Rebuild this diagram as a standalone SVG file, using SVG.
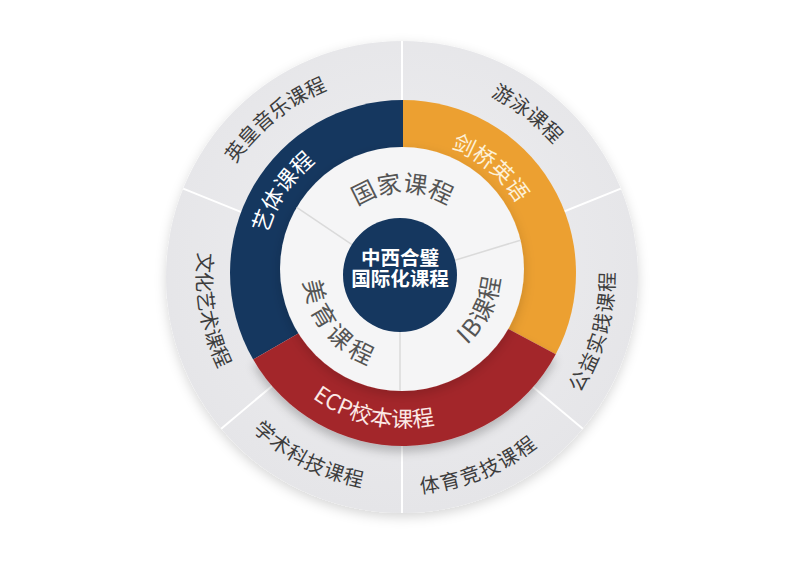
<svg xmlns="http://www.w3.org/2000/svg" width="800" height="566" viewBox="0 0 800 566">
<style>
text{font-family:"Noto Sans CJK SC","Noto Sans",sans-serif;}
.outer{font-size:20px;fill:#3d3d3d;}
.band{font-size:22px;fill:#ffffff;}
.inner{font-size:24px;fill:#555555;}
.div{stroke:#ffffff;stroke-width:2;}
.idiv{stroke:#dadada;stroke-width:1.5;}
</style>
<defs>
<radialGradient id="gray" cx="50%" cy="45%" r="55%">
<stop offset="0" stop-color="#efeff1"/>
<stop offset="1" stop-color="#e5e5e8"/>
</radialGradient>
<filter id="sh" x="-20%" y="-20%" width="140%" height="140%">
<feDropShadow dx="0" dy="4" stdDeviation="6" flood-color="#000" flood-opacity="0.16"/>
</filter>
<filter id="sh2" x="-20%" y="-20%" width="140%" height="140%">
<feDropShadow dx="0" dy="6" stdDeviation="5" flood-color="#000" flood-opacity="0.22"/>
</filter>
<path id="p1" d="M200.65,272.61 A201.4,201.4 0 0 1 441.29,79.47"/>
<path id="p2" d="M358.41,80.37 A201.4,201.4 0 0 1 603.21,268.22"/>
<path id="p3" d="M489.49,470.76 A212.6,212.6 0 0 0 577.63,157.19"/>
<path id="p4" d="M300.13,468.6 A217,217 0 0 0 608.38,344.06"/>
<path id="p5" d="M193.07,323.32 A214,214 0 0 0 483.89,474.71"/>
<path id="p6" d="M245.31,144.81 A205,205 0 0 0 299.03,454.27"/>
<path id="p7" d="M267.08,311.98 A141.4,141.4 0 0 1 388.22,132.37"/>
<path id="p8" d="M379.34,141.51 A133.6,133.6 0 0 1 536.6,272.53"/>
<path id="p9" d="M266.67,345.49 A154.4,154.4 0 0 0 498.06,394.67"/>
<path id="p10" d="M333.46,232.66 A79.9,79.9 0 0 1 471.84,231.45"/>
<path id="p11" d="M310.97,234.44 A99.4,99.4 0 0 0 416.49,370.48"/>
<path id="p12" d="M409.43,368.89 A97.1,97.1 0 0 0 483.68,217.98"/>
</defs>
<rect width="800" height="566" fill="#ffffff"/>

<g id="outer-ring">
<circle cx="402" cy="277" r="236" fill="url(#gray)" filter="url(#sh)"/>
</g>

<g id="connectors">
<line class="div" x1="402" y1="127" x2="402" y2="41"/>
<line class="div" x1="541.1" y1="220.8" x2="620.8" y2="188.6"/>
<line class="div" x1="516.9" y1="373.4" x2="582.8" y2="428.7"/>
<line class="div" x1="402" y1="427" x2="402" y2="513"/>
<line class="div" x1="287.1" y1="373.4" x2="221.2" y2="428.7"/>
<line class="div" x1="262.9" y1="220.8" x2="183.2" y2="188.6"/>
</g>

<g id="outer-labels">
<g id="n-yinghuang"><text class="outer"><textPath href="#p1" startOffset="50%" text-anchor="middle">英皇音乐课程</textPath></text></g>
<g id="n-youyong"><text class="outer"><textPath href="#p2" startOffset="50%" text-anchor="middle">游泳课程</textPath></text></g>
<g id="n-gongyi"><text class="outer" letter-spacing="1.5"><textPath href="#p3" startOffset="50%" text-anchor="middle">公益实践课程</textPath></text></g>
<g id="n-tiyu"><text class="outer" letter-spacing="1.5"><textPath href="#p4" startOffset="50%" text-anchor="middle">体育竞技课程</textPath></text></g>
<g id="n-xueshu"><text class="outer" letter-spacing="1"><textPath href="#p5" startOffset="50%" text-anchor="middle">学术科技课程</textPath></text></g>
<g id="n-wenhua"><text class="outer"><textPath href="#p6" startOffset="50%" text-anchor="middle">文化艺术课程</textPath></text></g>
</g>

<g id="n-yiti">
<path d="M403,273 L253.18,359.5 A173,173 0 0 1 403,100 Z" fill="#15375f"/>
<text class="band"><textPath href="#p7" startOffset="50%" text-anchor="middle">艺体课程</textPath></text>
</g>
<g id="n-jianqiao">
<path d="M403,273 L403,100 A173,173 0 0 1 555.75,354.2 Z" fill="#eca031"/>
<text class="band" style="fill:#fdf1d8"><textPath href="#p8" startOffset="50%" text-anchor="middle">剑桥英语</textPath></text>
</g>
<g id="n-ecp">
<path d="M403,273 L555.75,354.2 A173,173 0 0 1 253.18,359.5 Z" fill="#a3272b" filter="url(#sh2)"/>
<text class="band" style="fill:#fbe9e6"><textPath href="#p9" startOffset="50%" text-anchor="middle">ECP校本课程</textPath></text>
</g>

<g id="inner-circle">
<circle cx="402" cy="269" r="122" fill="#f5f5f6" filter="url(#sh)"/>
<line class="idiv" x1="400" y1="277" x2="296.7" y2="207.3"/>
<line class="idiv" x1="400" y1="277" x2="520.5" y2="240.2"/>
<line class="idiv" x1="400" y1="277" x2="400" y2="391"/>
</g>

<g id="n-guojia"><text class="inner"><textPath href="#p10" startOffset="50%" text-anchor="middle">国家课程</textPath></text></g>
<g id="n-meiyu"><text class="inner" letter-spacing="5"><textPath href="#p11" startOffset="51%" text-anchor="middle">美育课程</textPath></text></g>
<g id="n-ib"><text class="inner" letter-spacing="2"><textPath href="#p12" startOffset="50.5%" text-anchor="middle">IB课程</textPath></text></g>

<g id="n-center">
<circle cx="400" cy="275" r="57" fill="#15375f"/>
<text x="400" y="264.5" text-anchor="middle" font-size="19.5" font-weight="700" fill="#ffffff">中西合璧</text>
<text x="400" y="286" text-anchor="middle" font-size="19.5" font-weight="700" fill="#ffffff">国际化课程</text>
</g>
</svg>
